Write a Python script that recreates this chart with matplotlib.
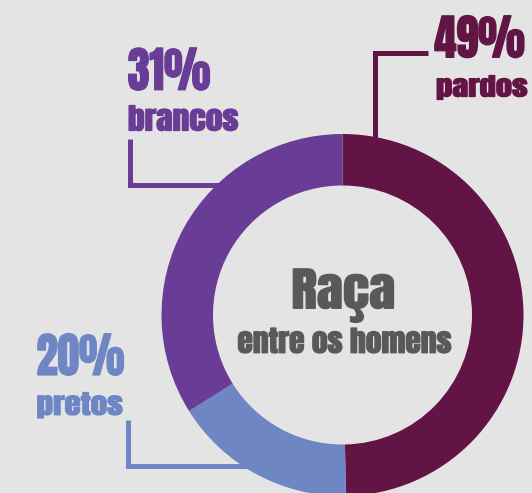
import matplotlib
matplotlib.use("Agg")
import matplotlib.pyplot as plt
from matplotlib.font_manager import FontProperties
from matplotlib.textpath import TextPath
from matplotlib.patheffects import AbstractPathEffect
from matplotlib.transforms import Affine2D

# ---- data ----
categories = ["pardos", "pretos", "brancos"]
slice_values = [49.7, 16.4, 33.9]          # arc sizes as drawn in the picture
pct_labels = ["49%", "20%", "31%"]          # printed labels
colors = ["#621445", "#6e87c4", "#693c95"]
title_main = "Raça"
title_sub = "entre os homens"

W, H = 532, 493
BG = "#e4e4e4"
GRAY = "#58595b"
FAM = "Anton"
FONT = [FAM, "DejaVu Sans"]
fp = FontProperties(family=FAM)

fig = plt.figure(figsize=(W / 100, H / 100), dpi=100, facecolor=BG)
ax = fig.add_axes([0, 0, 1, 1])
ax.set_facecolor(BG)


def Y(py):
    return H - py


class HScale(AbstractPathEffect):
    """Compress glyph outlines horizontally about a fixed display x, slightly emboldened."""
    def __init__(self, sx, x0, color, bold=0.9):
        super().__init__()
        self.sx, self.x0, self.color, self.bold = sx, x0, color, bold

    def draw_path(self, renderer, gc, tpath, affine, rgbFace=None):
        t = affine + Affine2D().translate(-self.x0, 0).scale(self.sx, 1).translate(self.x0, 0)
        gc0 = renderer.new_gc()
        gc0.copy_properties(gc)
        gc0.set_linewidth(self.bold)
        gc0.set_foreground(self.color)
        gc0.set_joinstyle("round")
        renderer.draw_path(gc0, tpath, t, rgbFace)
        gc0.restore()


def ink(s):
    v = TextPath((0, 0), s, size=100, prop=fp).vertices
    return v[:, 0].min(), v[:, 0].max(), v[:, 1].max()


def label(s, left, right, top, baseline, color, ha="left"):
    x0, x1, y1 = ink(s)
    empx = (baseline - top) / (y1 / 100.0)
    fs = empx * 72 / 100.0
    w = (x1 - x0) / 100.0 * empx
    sx = (right - left) / w
    ax_x = {"left": left, "right": right, "center": (left + right) / 2}[ha]
    ax.text(ax_x, Y(baseline), s, fontsize=fs, family=FONT, color=color,
            ha=ha, va="baseline", zorder=5,
            path_effects=[HScale(sx, ax_x, color)])


cx, cy = 342.5, 315.0
R, ring = 181.0, 51.5

ax.pie(slice_values, colors=colors, startangle=90, counterclock=False,
       center=(cx, Y(cy)), radius=R,
       wedgeprops=dict(width=ring, linewidth=0, zorder=3))

# connector lines (beneath the ring)
lw = 5 * 72 / 100
kw = dict(lw=lw, solid_capstyle="butt", solid_joinstyle="miter", zorder=1)
ax.plot([428, 374.5, 374.5], [Y(52.5), Y(52.5), Y(160)], color=colors[0], **kw)
ax.plot([129.5, 129.5, 240], [Y(139), Y(184.5), Y(184.5)], color=colors[2], **kw)
ax.plot([127.5, 127.5, 250], [Y(420), Y(466), Y(466)], color=colors[1], **kw)

# labels: (text, ink left, ink right, ink top, baseline)
label(pct_labels[0], 435.5, 525, 15.5, 57.3, colors[0], ha="right")
label(categories[0], 436.5, 527.5, 75.5, 96.5, colors[0], ha="right")
label(pct_labels[2], 127.8, 209.5, 47.8, 89.8, colors[2])
label(categories[2], 127.8, 237.8, 105.5, 130.5, colors[2])
label(pct_labels[1], 36.5, 123.5, 333.5, 375, colors[1])
label(categories[1], 36.5, 122.2, 392.5, 414.8, colors[1])

label(title_main, 292.2, 394.5, 268.8, 308.3, GRAY, ha="center")
label(title_sub, 237.8, 451.2, 328, 352.8, GRAY, ha="center")

ax.set_xlim(0, W)
ax.set_ylim(0, H)
ax.set_aspect("equal")
ax.axis("off")
fig.savefig("out.png", dpi=100, facecolor=BG)
